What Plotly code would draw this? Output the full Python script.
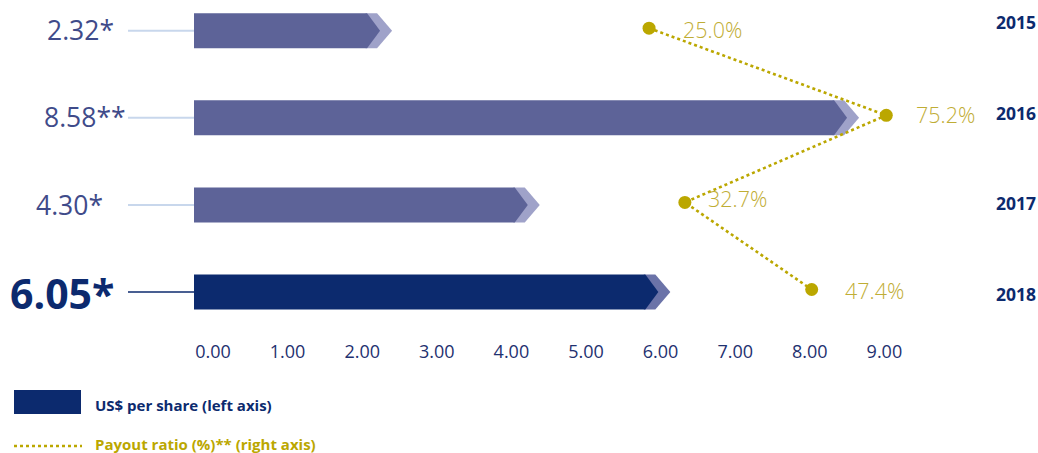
import plotly.graph_objects as go

# ---- data ----
years = ["2015", "2016", "2017", "2018"]
usd_per_share = [2.32, 8.58, 4.30, 6.05]
value_labels = ["2.32*", "8.58**", "4.30*", "6.05*"]
payout_pct = [25.0, 75.2, 32.7, 47.4]
payout_labels = ["25.0%", "75.2%", "32.7%", "47.4%"]
# horizontal positions of the payout dots in left-axis units
payout_pos = [6.10, 9.28, 6.58, 8.28]
x_ticks = [0, 1, 2, 3, 4, 5, 6, 7, 8, 9]
x_tick_labels = ["0.00", "1.00", "2.00", "3.00", "4.00", "5.00", "6.00", "7.00", "8.00", "9.00"]

# ---- styles ----
W, H = 1038, 453
PX = 74.6            # pixels per unit on the left axis
X0 = 194             # pixel of value 0
PY = 87.1            # pixels per row
Y0 = 30.7            # pixel of first row centre
PLOT_H = 330

body_cols = ["#5d6398", "#5d6398", "#5d6398", "#0c2a6e"]
tip_cols = ["#9fa2c9", "#9fa2c9", "#9fa2c9", "#6b73a8"]
conn_cols = ["#c8d7ec", "#c8d7ec", "#c8d7ec", "#0c2a6e"]
label_cols = ["#3f4b8a", "#3f4b8a", "#3f4b8a", "#0c2a6e"]
label_sizes = [26.5, 26.5, 26.5, 41]
label_weights = [400, 400, 400, 700]
label_right_px = [116, 128, 105, 116]
label_yshift = [1, 1, 0, -1]
pct_dx = [32, 28, 21, 31]
pct_dy = [1, 3, 6, 2]
year_yshift = [9, 5, 2, -2]
GOLD = "#bba700"
GOLD_TXT = "#bfad35"
NAVY = "#0c2a6e"
FONT = "Open Sans"

u = 1.0 / PX
half = 17.5 / PY
d_dark = 13 * u
d_light_top = 10 * u
d_light_tip = 25 * u

fig = go.Figure()

for i, v in enumerate(usd_per_share):
    y = i
    # connector line
    fig.add_trace(go.Scatter(x=[-(X0 - 128) * u, 0], y=[y, y], mode="lines",
                             line=dict(color=conn_cols[i], width=2 if i < 3 else 1.6),
                             hoverinfo="skip", showlegend=False))
    # light chevron behind
    fig.add_trace(go.Scatter(
        x=[v - 0.02, v + d_light_top, v + d_light_tip, v + d_light_top, v - 0.02, v - 0.02],
        y=[y - half, y - half, y, y + half, y + half, y - half],
        mode="lines", fill="toself", fillcolor=tip_cols[i], line=dict(width=0),
        hoverinfo="skip", showlegend=False))
    # body bar with its dark chevron tip
    fig.add_trace(go.Scatter(
        x=[0, v, v + d_dark, v, 0, 0],
        y=[y - half, y - half, y, y + half, y + half, y - half],
        mode="lines", fill="toself", fillcolor=body_cols[i], line=dict(width=0),
        hoverinfo="skip", showlegend=False))

# payout ratio dotted line with dots
fig.add_trace(go.Scatter(x=payout_pos, y=[i - 2.5 / PY for i in range(4)],
                         mode="lines+markers",
                         line=dict(color=GOLD, width=2.6, dash="dot"),
                         marker=dict(color=GOLD, size=13),
                         hoverinfo="skip", showlegend=False))

annotations = []
for i in range(4):
    annotations.append(dict(x=0, y=i, xref="x", yref="y", text=value_labels[i],
                            showarrow=False, xanchor="right", yanchor="middle",
                            xshift=label_right_px[i] - X0, yshift=label_yshift[i],
                            font=dict(family=FONT, size=label_sizes[i], color=label_cols[i],
                                      weight=label_weights[i])))
    annotations.append(dict(x=payout_pos[i], y=i, xref="x", yref="y", text=payout_labels[i],
                            showarrow=False, xanchor="left", yanchor="middle",
                            xshift=pct_dx[i], yshift=pct_dy[i],
                            font=dict(family=FONT, size=21.5, color=GOLD_TXT, weight=300)))
    annotations.append(dict(x=1016 / W, y=i, xref="paper", yref="y", text="<b>" + years[i] + "</b>",
                            showarrow=False, xanchor="center", yanchor="middle",
                            yshift=year_yshift[i],
                            font=dict(family=FONT, size=17.5, color=NAVY)))

# legend texts
annotations.append(dict(x=93 / W, y=(PLOT_H - 405) / PLOT_H, xref="paper", yref="paper",
                        text="<b>US$ per share (left axis)</b>", showarrow=False,
                        xanchor="left", yanchor="middle",
                        font=dict(family=FONT, size=15, color=NAVY)))
annotations.append(dict(x=93 / W, y=(PLOT_H - 444) / PLOT_H, xref="paper", yref="paper",
                        text="<b>Payout ratio (%)** (right axis)</b>", showarrow=False,
                        xanchor="left", yanchor="middle",
                        font=dict(family=FONT, size=15, color=GOLD)))

shapes = [
    dict(type="rect", xref="paper", yref="paper", x0=14 / W, x1=81 / W,
         y0=(PLOT_H - 414) / PLOT_H, y1=(PLOT_H - 390) / PLOT_H,
         fillcolor=NAVY, line=dict(width=0)),
    dict(type="line", xref="paper", yref="paper", x0=14 / W, x1=82 / W,
         y0=(PLOT_H - 446) / PLOT_H, y1=(PLOT_H - 446) / PLOT_H,
         line=dict(color=GOLD, width=2.6, dash="dot")),
]

fig.update_layout(
    width=W, height=H,
    margin=dict(l=0, r=0, t=0, b=H - PLOT_H, pad=0),
    paper_bgcolor="white", plot_bgcolor="white",
    showlegend=False,
    annotations=annotations,
    shapes=shapes,
    xaxis=dict(range=[-X0 * u, (W - X0) * u], tickmode="array", tickvals=x_ticks,
               ticktext=x_tick_labels, showgrid=False, zeroline=False, showline=False,
               ticks="", ticklabelshift=19, ticklabelstandoff=9,
               tickfont=dict(family=FONT, size=18, color="#1f3170")),
    yaxis=dict(range=[(PLOT_H - Y0) / PY, -Y0 / PY], showgrid=False, zeroline=False,
               showline=False, showticklabels=False, ticks=""),
)

fig.write_html("out.html")
